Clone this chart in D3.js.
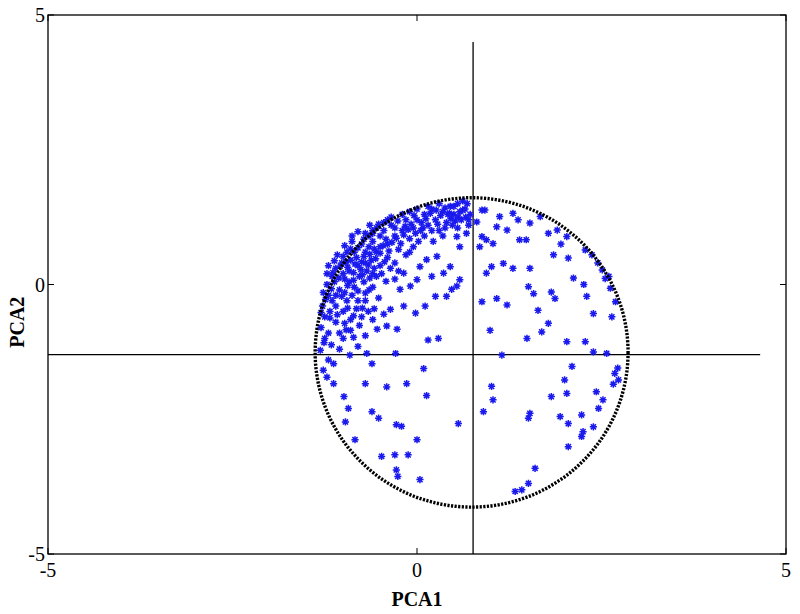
<!DOCTYPE html>
<html><head><meta charset="utf-8">
<script src="https://cdn.jsdelivr.net/npm/d3@7"></script>
<style>body{margin:0;background:#fff}</style></head>
<body><svg id="c" width="800" height="614"></svg>
<script>
const xTicks=[-5,0,5], yTicks=[-5,0,5];
const circle={cx:0.74, cy:-1.26, rx:2.12, ry:2.87};
const vLine={x:0.76, y1:-5, y2:4.5};
const hLine={y:-1.3, x1:-5, x2:4.65};
const points=[
[0.88,-0.32],[1.08,-0.26],[0.99,-0.85],[1.22,-0.38],[1.49,-1.0],[1.69,-0.88],[1.78,-0.72],[2.03,-1.06],[2.28,-1.06],[2.39,-0.54],[2.64,-0.6],[2.39,-1.25],[2.57,-1.28],[1.15,-1.31],[2.1,-1.52],[2.68,-1.65],[2.73,-1.77],[2.72,-1.55],[2.66,-1.85],[2.0,-1.77],[2.03,-2.02],[1.82,-2.08],[2.43,-1.99],[2.52,-2.14],[2.46,-2.3],[2.23,-2.42],[1.94,-2.45],[2.05,-2.58],[2.39,-2.64],[2.25,-2.73],[2.23,-2.82],[2.05,-3.01],[1.53,-2.39],[1.51,-2.48],[1.01,-1.89],[1.03,-2.14],[0.9,-2.36],[1.6,-3.41],[1.51,-3.69],[1.42,-3.81],[1.33,-3.84],
[0.88,0.89],[0.94,0.83],[0.85,0.7],[1.03,0.76],[1.01,0.33],[0.94,0.21],[1.17,0.39],[1.3,0.3],[1.39,0.83],[1.48,0.83],[1.53,0.3],[1.51,-0.04],[1.58,-0.17],[1.64,-0.48],[1.82,-0.14],[1.87,-0.26],[1.85,0.55],[1.78,0.95],[1.9,1.01],[2.03,0.89],[2.05,0.49],[2.12,0.12],[2.26,0.0],[2.3,-0.22],[2.28,0.64],[2.37,0.55],[2.51,0.27],[2.55,0.11],[2.62,-0.07],[2.69,-0.32],[1.37,1.2],[1.53,1.14],[1.67,1.26],[1.3,1.32],[1.12,1.26],[0.92,1.38],[1.08,1.07],[1.22,1.01],[0.88,1.38],[0.81,1.16],[2.45,0.4],[2.6,0.15],[1.95,0.75],
[-0.91,-1.31],[-0.68,-1.28],[-0.61,-1.47],[-1.13,-1.47],[-1.22,-1.72],[-1.13,-1.84],[-0.99,-2.08],[-0.93,-2.3],[-0.97,-2.55],[-0.7,-1.84],[-0.41,-1.9],[-0.14,-1.84],[0.09,-1.56],[0.13,-2.06],[-0.61,-2.36],[-0.52,-2.48],[-0.28,-2.6],[-0.21,-2.63],[0.0,-2.88],[-0.84,-2.88],[-0.48,-3.19],[-0.3,-3.16],[-0.12,-3.16],[-0.28,-3.44],[-0.26,-3.56],[0.04,-3.62],[0.56,-2.58],[0.15,-1.03],[0.29,-1.0],[-0.29,-1.28],[-1.31,-1.22],[-1.27,-1.59],[-1.2,-1.4],[-1.05,-1.2],[-0.8,-1.15],[-1.25,-1.0],
[-0.23,-0.09],[-0.09,-0.03],[0.11,-0.4],[-0.02,-0.53],[-0.18,-0.4],[-0.36,-0.46],[-0.41,-0.77],[-0.54,-0.83],[-0.27,-0.83],[0.47,-0.09],[0.54,-0.03],[0.4,-0.22],[0.25,-0.22],[0.58,0.09],[0.36,0.21],[0.45,0.33],[0.2,0.15],[0.0,0.09],[-0.18,0.21],[0.27,0.52],[0.13,0.46],[0.04,0.33],[0.58,0.7],[0.67,0.95],[0.54,0.89],
[-1.3,-0.8],[-1.25,-0.6],[-1.28,-0.4],[-1.2,-0.2],[-1.22,0.0],[-1.15,0.15],[-1.1,0.3],[-1.18,-0.5],[-1.1,-0.7],[-1.05,-0.9],[-1.0,-0.5],[-0.95,-0.3],[-1.05,-0.1],[-0.98,0.1],[-0.92,0.25],[-0.9,0.45],[-1.02,0.4],[-1.08,0.55],[-0.85,0.6],[-0.8,0.35],[-0.78,0.15],[-0.85,-0.05],[-0.88,-0.2],[-0.82,-0.45],[-0.9,-0.65],[-0.75,-0.6],[-0.7,-0.3],[-0.65,-0.1],[-0.72,0.05],[-0.68,0.25],[-0.62,0.45],[-0.7,0.6],[-0.75,0.75],[-0.6,0.8],[-0.55,0.6],[-0.5,0.35],[-0.55,0.15],[-0.6,-0.05],[-0.52,-0.25],[-0.58,-0.45],[-1.15,-0.3],[-1.12,0.05],[-1.0,0.2],[-0.95,0.6],[-0.88,0.8],[-0.98,0.72],[-1.2,-0.9],[-1.0,-1.0],[-0.9,-0.85],[-0.7,-0.95],[-0.6,-0.65],[-0.45,-0.55],[-1.27,-0.15],[-1.1,-0.4],[-0.98,-0.15],[-0.82,0.5],[-0.75,0.42],[-0.65,0.7],[-0.92,0.05],[-0.8,-0.3],
[-1.24,-0.28],[-1.16,-0.08],[-1.14,0.22],[-1.06,0.12],[-1.04,0.34],[-0.96,0.42],[-0.94,0.32],[-0.86,0.22],[-0.84,0.38],[-0.76,0.28],[-0.72,0.52],[-0.66,0.36],[-0.64,0.56],[-0.58,0.66],[-0.56,0.48],[-0.5,0.58],[-0.46,0.72],[-0.42,0.84],[-0.38,0.62],[-0.34,0.78],[-0.28,0.86],[-0.22,0.76],[-0.18,0.92],[-0.12,1.02],[-0.08,1.12],[-1.02,-0.22],[-0.94,-0.02],[-0.86,0.08],[-0.8,-0.12],[-0.74,0.18],[-0.7,-0.16],[-0.64,0.12],[-0.58,0.3],[-0.48,0.2],[-0.44,0.42],[-1.18,-0.62],[-1.08,-0.56],[-0.98,-0.72],[-0.94,-0.44],[-0.86,-0.58],[-0.78,-0.76],[-0.74,-0.44],[-0.66,-0.5],[-1.26,-1.08],[-1.16,-1.12],[-1.3,-0.52],[-1.22,0.2],[-1.12,0.44],[-1.0,0.52],[-0.9,0.66],[-0.8,0.68],[-0.72,0.84],[-0.6,1.0],[-0.52,1.12],[-0.4,1.2],[-0.3,1.05],[-0.26,1.18],[-0.16,1.08],[-0.02,0.95],[0.06,1.15],[0.12,1.22],[0.18,1.32],[0.26,1.38],[0.32,1.28],[0.38,1.42],[0.44,1.32],[0.5,1.45],[0.56,1.25],[0.62,1.38],[0.68,1.5],[0.7,1.2],[0.52,1.18],[0.46,1.22],[0.38,1.05],[0.28,1.12],[0.2,1.0],[0.08,1.05],[-0.04,1.28],[0.02,0.8],[-0.1,0.6],[-0.36,0.3],[-0.42,0.06],[-0.3,0.1],[-0.96,-0.84],[-0.86,-0.98],[-1.1,-0.2],[-1.2,0.35],[-0.7,0.4],[-0.6,0.2],[-0.88,0.9],[-0.8,0.98],[-0.64,1.1],
[-0.5,0.9],[-0.4,0.75],[-0.45,1.0],[-0.35,1.1],[-0.3,0.9],[-0.25,0.65],[-0.2,1.0],[-0.15,1.2],[-0.1,0.85],[-0.05,1.05],[-0.55,1.05],[-0.6,0.95],[-0.4,0.5],[-0.3,0.4],[-0.35,1.25],[-0.2,1.3],[-0.1,1.35],[-0.45,1.15],[-0.25,0.25],[-0.15,0.55],[-0.65,0.9],[-0.7,0.95],[-0.05,0.7],[-0.5,0.7],
[0.0,1.2],[0.05,1.0],[0.1,1.3],[0.15,1.1],[0.2,1.4],[0.25,1.2],[0.3,1.0],[0.35,1.35],[0.4,1.15],[0.45,1.45],[0.5,1.3],[0.55,1.5],[0.6,1.2],[0.65,1.4],[0.7,1.1],[0.72,1.3],[0.62,1.55],[0.48,1.1],[0.35,0.9],[0.1,0.9],[0.22,0.8],[0.0,1.4],[0.3,1.5],[0.58,1.35],[0.66,1.25],[0.42,1.3],[0.15,1.45],[0.55,1.05]
];
const svg=d3.select("#c");
const x=d3.scaleLinear().domain([-5,5]).range([48,786]);
const y=d3.scaleLinear().domain([-5,5]).range([554,15]);
const font="'Liberation Serif','Times New Roman',serif";
svg.append("rect").attr("x",48).attr("y",15).attr("width",738).attr("height",539).attr("fill","none").attr("stroke","#000").attr("stroke-width",1.3);
xTicks.forEach(t=>{
  svg.append("line").attr("x1",x(t)).attr("x2",x(t)).attr("y1",554).attr("y2",548).attr("stroke","#000");
  svg.append("line").attr("x1",x(t)).attr("x2",x(t)).attr("y1",15).attr("y2",21).attr("stroke","#000");
  svg.append("text").attr("x",x(t)).attr("y",577).attr("text-anchor","middle").attr("font-family",font).attr("font-size",20).text(t);
});
yTicks.forEach(t=>{
  svg.append("line").attr("y1",y(t)).attr("y2",y(t)).attr("x1",48).attr("x2",54).attr("stroke","#000");
  svg.append("line").attr("y1",y(t)).attr("y2",y(t)).attr("x1",786).attr("x2",780).attr("stroke","#000");
  svg.append("text").attr("x",45).attr("y",y(t)+7).attr("text-anchor","end").attr("font-family",font).attr("font-size",20).text(t);
});
svg.append("text").attr("x",417).attr("y",606).attr("text-anchor","middle").attr("font-family",font).attr("font-size",20).attr("font-weight","bold").text("PCA1");
svg.append("text").attr("transform",`translate(24,${y(-0.7)}) rotate(-90)`).attr("text-anchor","middle").attr("font-family",font).attr("font-size",20).attr("font-weight","bold").text("PCA2");
svg.append("line").attr("x1",x(vLine.x)).attr("x2",x(vLine.x)).attr("y1",y(vLine.y1)).attr("y2",y(vLine.y2)).attr("stroke","#000").attr("stroke-width",1.3);
svg.append("line").attr("x1",x(hLine.x1)).attr("x2",x(hLine.x2)).attr("y1",y(hLine.y)).attr("y2",y(hLine.y)).attr("stroke","#000").attr("stroke-width",1.3);
const star="M-3.6,0H3.6M0,-3.6V3.6M-2.6,-2.6L2.6,2.6M-2.6,2.6L2.6,-2.6";
svg.append("g").selectAll("path").data(points).join("path")
  .attr("transform",d=>`translate(${x(d[0])},${y(d[1])})`).attr("d",star)
  .attr("stroke","#1a1aee").attr("stroke-width",1.5).attr("fill","none");
svg.append("ellipse").attr("cx",x(circle.cx)).attr("cy",y(circle.cy))
  .attr("rx",x(circle.cx+circle.rx)-x(circle.cx)).attr("ry",y(circle.cy)-y(circle.cy+circle.ry))
  .attr("fill","none").attr("stroke","#000").attr("stroke-width",3.4).attr("stroke-dasharray","2.2,1.4");
</script></body></html>
